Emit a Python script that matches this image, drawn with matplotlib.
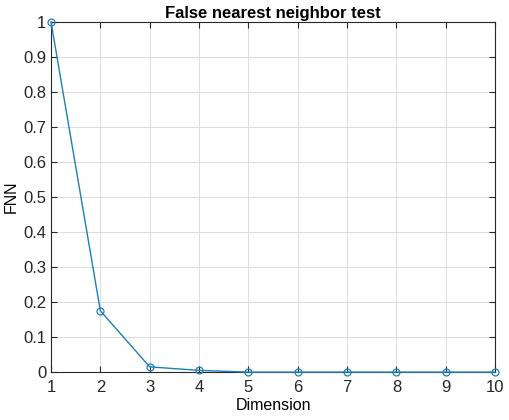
import matplotlib
matplotlib.use("Agg")
import matplotlib.pyplot as plt

# data
dimension = [1, 2, 3, 4, 5, 6, 7, 8, 9, 10]
fnn = [1.0, 0.175, 0.015, 0.005, 0.0, 0.0, 0.0, 0.0, 0.0, 0.0]

plt.rcParams['font.family'] = ['Liberation Sans', 'DejaVu Sans']

fig = plt.figure(figsize=(5.1, 4.2), dpi=100)
ax = fig.add_axes([0.1, 0.114, 0.871, 0.834])

ax.plot(dimension, fnn, color='#1f7fb8', linewidth=1.0,
        marker='o', markersize=5, markerfacecolor='none',
        markeredgewidth=0.9, clip_on=False, zorder=3)

ax.set_xlim(1, 10)
ax.set_ylim(0, 1)
ax.set_xticks(range(1, 11))
ax.set_yticks([i / 10 for i in range(11)])
ax.set_yticklabels(['0', '0.1', '0.2', '0.3', '0.4', '0.5',
                    '0.6', '0.7', '0.8', '0.9', '1'])

ax.grid(True, color='#dcdcdc', linewidth=0.7)
ax.set_axisbelow(True)
for s in ax.spines.values():
    s.set_color('#262626')
    s.set_linewidth(0.8)
ax.tick_params(direction='in', top=True, right=True, length=4,
               labelsize=12, colors='#262626', labelcolor='#262626')
ax.tick_params(axis='x', pad=6)

ax.set_title('False nearest neighbor test', fontsize=12,
             fontweight='bold', pad=3)
ax.set_xlabel('Dimension', fontsize=11.5, labelpad=2)
ax.set_ylabel('FNN', fontsize=11.5, labelpad=3)

fig.savefig('out.png', dpi=100)
